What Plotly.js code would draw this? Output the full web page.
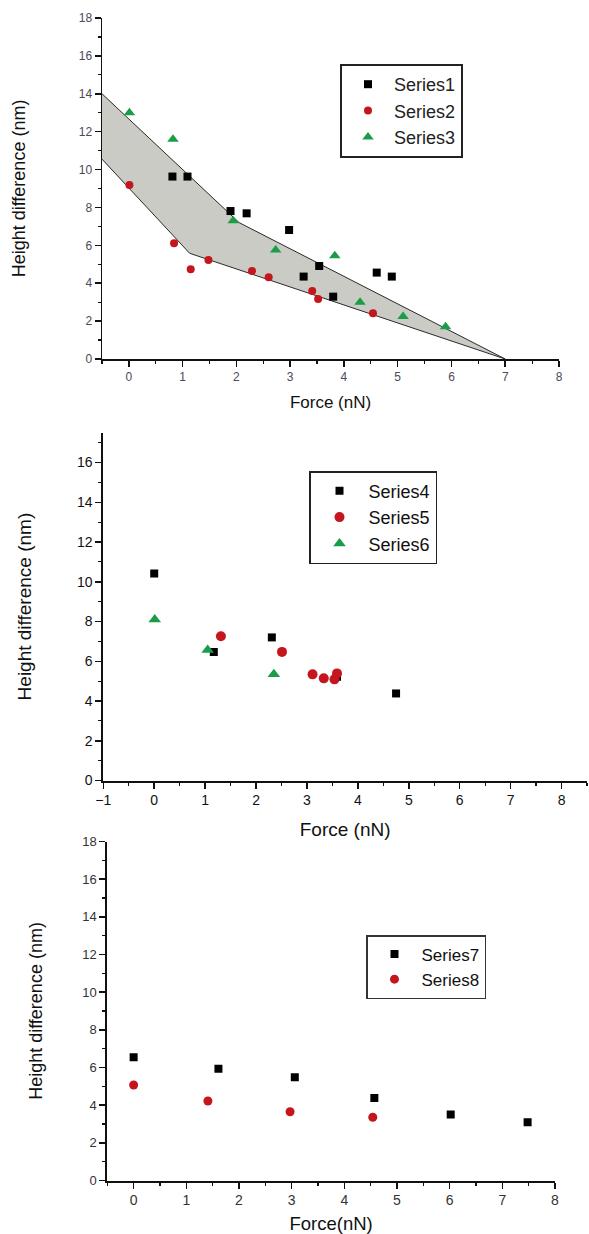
<!DOCTYPE html>
<html><head><meta charset="utf-8">
<script src="https://cdn.plot.ly/plotly-3.0.1.min.js"></script>
<style>html,body{margin:0;padding:0;background:#fff;}#chart{width:589px;height:1234px;}</style>
</head><body><div id="chart"></div>
<script>
// ---- Panel 1 data ----
const s1x = [0.81, 1.09, 1.89, 2.19, 2.98, 3.25, 3.54, 3.80, 4.61, 4.89];
const s1y = [9.63, 9.63, 7.81, 7.69, 6.81, 4.35, 4.91, 3.29, 4.56, 4.35];
const s2x = [0.01, 0.84, 1.15, 1.48, 2.29, 2.60, 3.41, 3.52, 4.54];
const s2y = [9.19, 6.11, 4.74, 5.23, 4.65, 4.31, 3.59, 3.17, 2.41];
const s3x = [0.01, 0.82, 1.94, 2.73, 3.83, 4.30, 5.10, 5.89];
const s3y = [13.0, 11.6, 7.3, 5.75, 5.45, 3.0, 2.25, 1.7];
// shaded band (boundary vertices)
const bandX = [-0.5, 2.05, 7.0, 1.13, -0.5];
const bandY = [14.0, 7.2, 0.0, 5.58, 10.55];
// ---- Panel 2 data ----
const s4x = [0, 1.17, 2.31, 3.59, 4.75];
const s4y = [10.41, 6.47, 7.20, 5.22, 4.38];
const s5x = [1.31, 2.51, 3.11, 3.33, 3.54, 3.59];
const s5y = [7.26, 6.47, 5.34, 5.14, 5.09, 5.39];
const s6x = [0.01, 1.05, 2.35];
const s6y = [8.1, 6.56, 5.34];
// ---- Panel 3 data ----
const s7x = [0, 1.61, 3.06, 4.57, 6.02, 7.48];
const s7y = [6.54, 5.94, 5.48, 4.38, 3.51, 3.09];
const s8x = [0, 1.41, 2.97, 4.54];
const s8y = [5.07, 4.22, 3.65, 3.36];

const names = ['Series1','Series2','Series3','Series4','Series5','Series6','Series7','Series8'];
const BLACK = '#000000', RED = '#c4161c', GREEN = '#1a9c48';
const FONT = 'Liberation Sans, Arial, sans-serif';

function pts(x, y, name, sym, color, size, xa, ya, leg) {
  return {type:'scatter', mode:'markers', x:x, y:y, name:name, xaxis:xa, yaxis:ya, legend:leg,
    marker:{symbol:sym, color:color, size:size, line:{width:0}}, hoverinfo:'x+y'};
}

const traces = [
  {type:'scatter', mode:'lines', x:bandX, y:bandY, fill:'toself', fillcolor:'#c9cbc4',
   line:{color:'#2a2a2a', width:1}, showlegend:false, xaxis:'x', yaxis:'y', hoverinfo:'skip'},
  pts(s1x, s1y, names[0], 'square', BLACK, 8, 'x', 'y', 'legend'),
  pts(s2x, s2y, names[1], 'circle', RED, 8, 'x', 'y', 'legend'),
  pts(s3x, s3y, names[2], 'triangle-up', GREEN, 10, 'x', 'y', 'legend'),
  pts(s4x, s4y, names[3], 'square', BLACK, 8, 'x2', 'y2', 'legend2'),
  pts(s5x, s5y, names[4], 'circle', RED, 10, 'x2', 'y2', 'legend2'),
  pts(s6x, s6y, names[5], 'triangle-up', GREEN, 11, 'x2', 'y2', 'legend2'),
  pts(s7x, s7y, names[6], 'square', BLACK, 8, 'x3', 'y3', 'legend3'),
  pts(s8x, s8y, names[7], 'circle', RED, 9, 'x3', 'y3', 'legend3')
];

function xa(domain, range, anchor, tickSize, tickColor, title, titleSize, standoff, lw) {
  return {domain:domain, range:range, anchor:anchor, showgrid:false, zeroline:false,
    showline:true, linecolor:'#111', linewidth:lw, ticks:'outside', ticklen:6, tickwidth:1.5, tickcolor:'#111',
    dtick:1, tick0:0, minor:{dtick:0.5, tick0:0, ticks:'outside', ticklen:3, tickwidth:1.2, tickcolor:'#111'},
    tickfont:{family:FONT, size:tickSize, color:tickColor}, automargin:false, fixedrange:true,
    title:{text:title, font:{family:FONT, size:titleSize, color:'#111'}, standoff:standoff}};
}
function ya(domain, range, anchor, tickSize, tickColor, title, titleSize, standoff, lw) {
  return {domain:domain, range:range, anchor:anchor, showgrid:false, zeroline:false,
    showline:true, linecolor:'#111', linewidth:lw, ticks:'outside', ticklen:6, tickwidth:1.5, tickcolor:'#111',
    dtick:2, tick0:0, minor:{dtick:1, tick0:0, ticks:'outside', ticklen:3, tickwidth:1.2, tickcolor:'#111'},
    tickfont:{family:FONT, size:tickSize, color:tickColor}, automargin:false, fixedrange:true,
    title:{text:title, font:{family:FONT, size:titleSize, color:'#111'}, standoff:standoff}};
}

const W = 589, H = 1234;
const layout = {
  width:W, height:H, margin:{l:0, r:0, t:0, b:0}, paper_bgcolor:'#fff', plot_bgcolor:'rgba(0,0,0,0)',
  font:{family:FONT},
  xaxis: xa([102/W, 559/W], [-0.5, 8], 'y', 12, '#4a4a58', 'Force (nN)', 17, 13, 1.5),
  yaxis: ya([1-359/H, 1-18/H], [0, 18], 'x', 12, '#4a4a58', 'Height difference (nm)', 18, 48, 1.5),
  xaxis2: xa([103.3/W, 587/W], [-1, 8.5], 'y2', 14, '#111', 'Force (nN)', 19, 15, 2),
  yaxis2: ya([1-780.5/H, 1-432.7/H], [0, 17.5], 'x2', 14, '#111', 'Height difference (nm)', 19, 40, 2),
  xaxis3: xa([107.3/W, 555/W], [-0.5, 8], 'y3', 14, '#333', 'Force(nN)', 18.5, 14, 2),
  yaxis3: ya([1-1180.5/H, 1-841.5/H], [0, 18], 'x3', 13, '#333', 'Height difference (nm)', 18, 35, 2),
  legend: {x:340/W, y:1-64/H, xanchor:'left', yanchor:'top', bgcolor:'#fff', bordercolor:'#222', borderwidth:2,
    font:{family:FONT, size:18, color:'#222'}, itemwidth:42},
  legend2: {x:309/W, y:1-471/H, xanchor:'left', yanchor:'top', bgcolor:'#fff', bordercolor:'#222', borderwidth:1.5,
    font:{family:FONT, size:18, color:'#111'}, itemwidth:48},
  legend3: {x:366/W, y:1-935/H, xanchor:'left', yanchor:'top', bgcolor:'#fff', bordercolor:'#333', borderwidth:1.5,
    font:{family:FONT, size:17, color:'#111'}, itemwidth:44},
  showlegend:true
};

Plotly.newPlot('chart', traces, layout, {staticPlot:true, displayModeBar:false});
</script></body></html>
